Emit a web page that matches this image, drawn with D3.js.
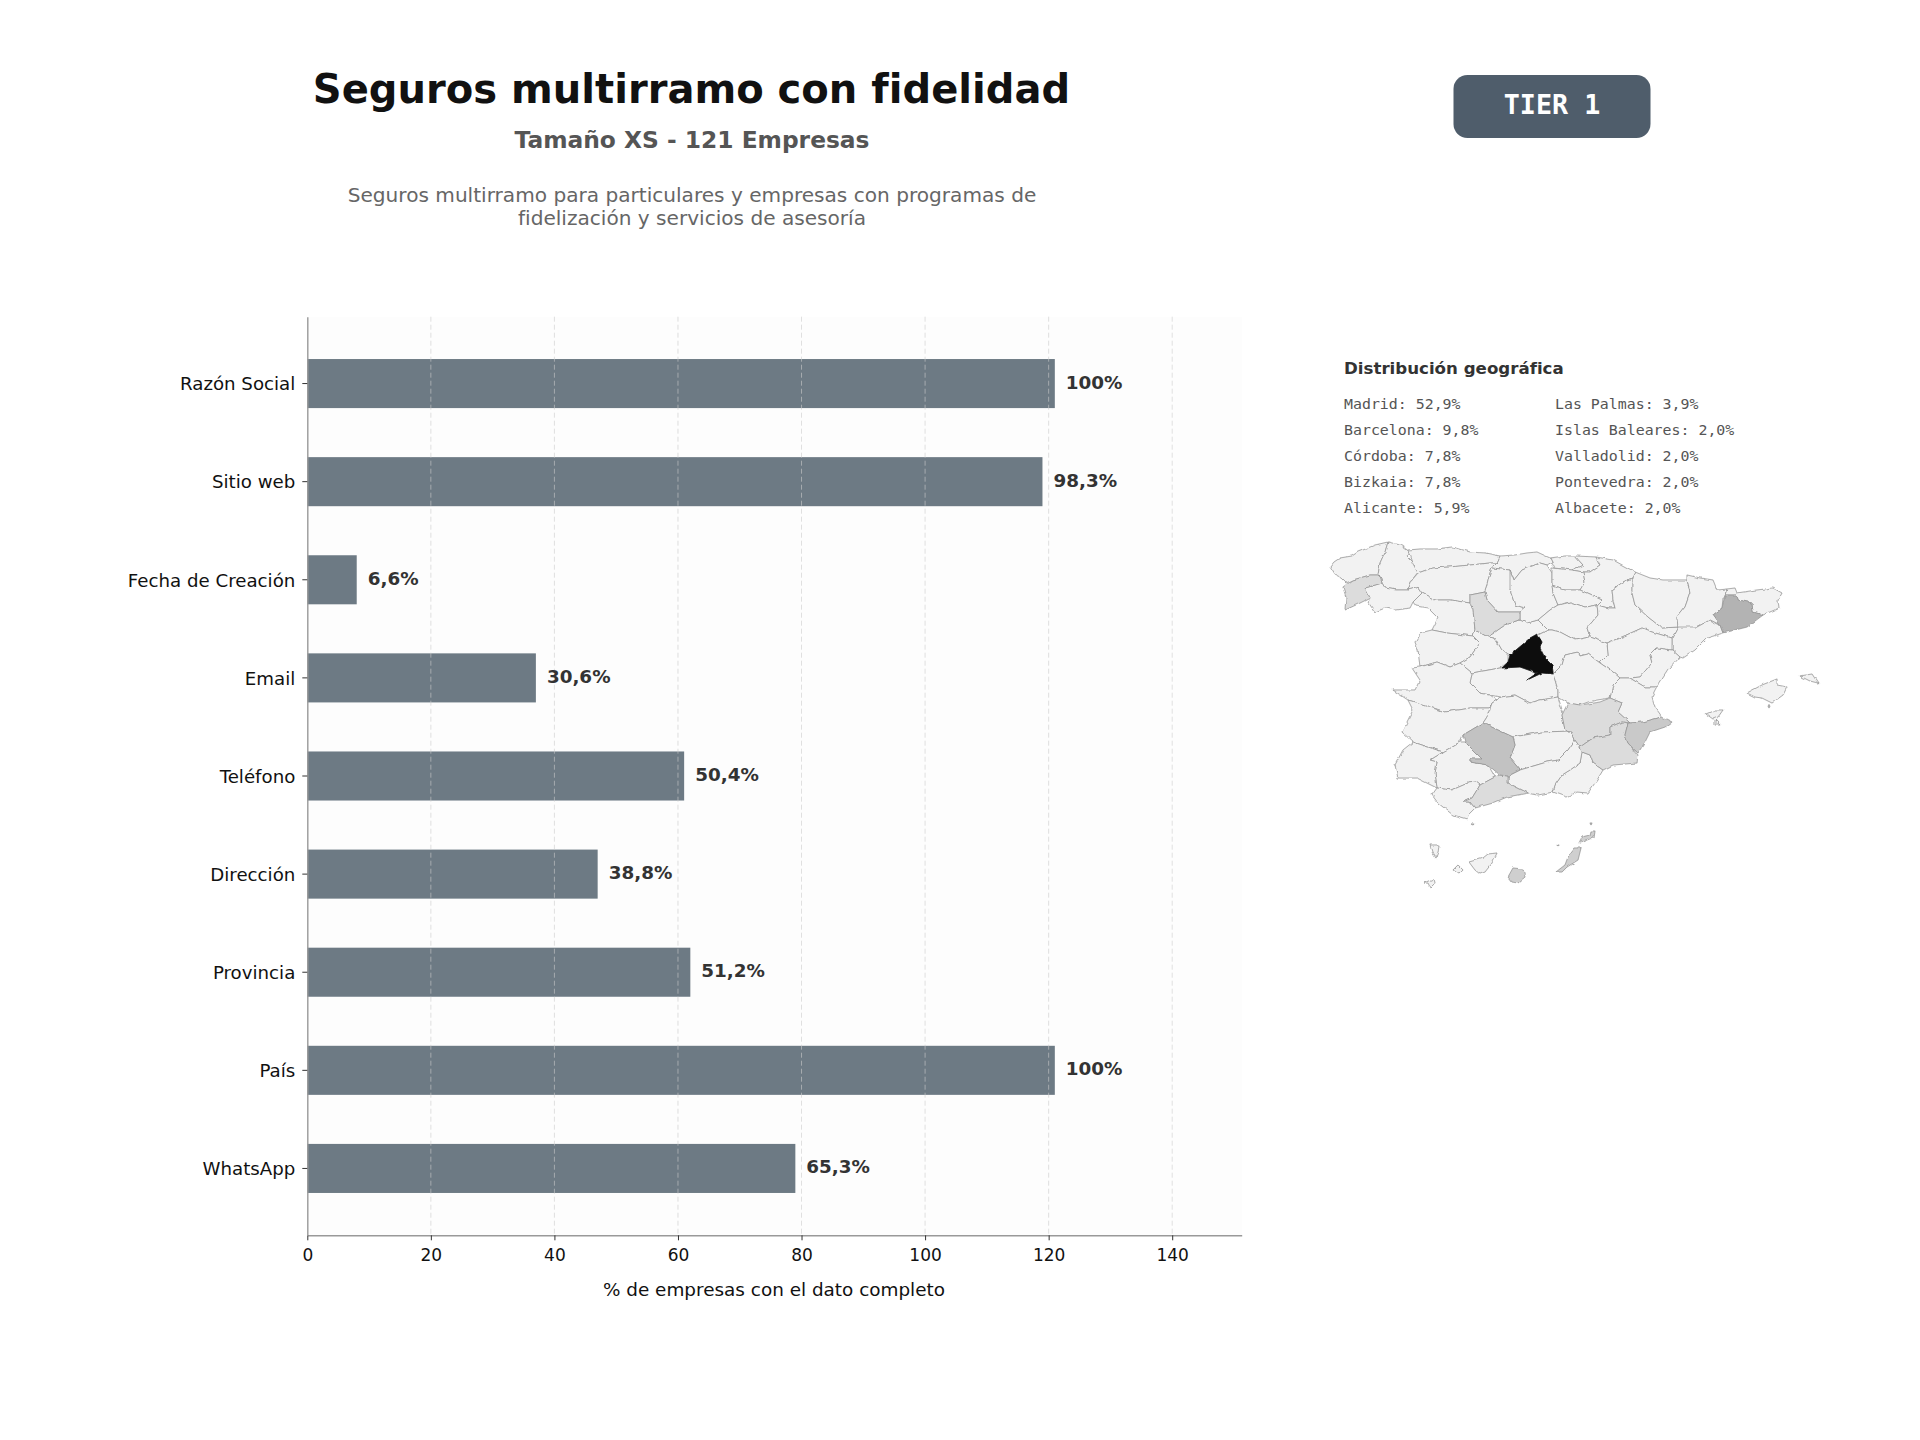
<!DOCTYPE html>
<html lang="es">
<head>
<meta charset="utf-8">
<title>Seguros multirramo con fidelidad</title>
<script src="https://cdn.jsdelivr.net/npm/d3@7/dist/d3.min.js"></script>
<style>
  html, body { margin: 0; padding: 0; background: #fff; }
  svg { display: block; }
  text { font-family: "DejaVu Sans", sans-serif; }
</style>
</head>
<body>
<svg id="chart" width="1920" height="1440"></svg>
<script>
// Completeness of company data fields
const totalCompanies = 121;
const fieldNames = ["Razón Social", "Sitio web", "Fecha de Creación", "Email", "Teléfono", "Dirección", "Provincia", "País", "WhatsApp"];
const fieldCounts = [121, 119, 8, 37, 61, 47, 62, 121, 79];
const xTickValues = [0, 20, 40, 60, 80, 100, 120, 140];

// Geographic distribution, two text columns
const geoColumnLeft = ["Madrid: 52,9%", "Barcelona: 9,8%", "Córdoba: 7,8%", "Bizkaia: 7,8%", "Alicante: 5,9%"];
const geoColumnRight = ["Las Palmas: 3,9%", "Islas Baleares: 2,0%", "Valladolid: 2,0%", "Pontevedra: 2,0%", "Albacete: 2,0%"];

// Share of companies by province, where it is shaded on the map
const provinceShare = {
  Madrid: 52.9, Barcelona: 9.8, Córdoba: 7.8, Alicante: 5.9, "Las Palmas": 3.9,
  Valladolid: 2, Pontevedra: 2, Albacete: 2, Málaga: 2, Murcia: 2
};
const shareStops = [0, 2, 3.9, 5.9, 7.8, 9.8, 52.9];
const shareGreys = ["#f2f2f2", "#dcdcdc", "#cfcfcf", "#c9c9c9", "#c2c2c2", "#b3b3b3", "#111111"];

// Simplified province outlines on the atlas grid, one "x,y" per vertex
const provinceOutlines = [
  ["A Coruña", "1330,567 1334,562 1340,558 1352,556 1358,552 1363,550 1375,545 1388,542 1385,552 1380,563 1378,575 1370,575 1353,580 1346,583 1341,578 1335,575"],
  ["Pontevedra", "1353,580 1370,575 1378,575 1380,577 1382,583 1365,588 1370,598 1358,604 1345,610 1346,597 1343,587"],
  ["Lugo", "1388,542 1400,545 1410,552 1407,556 1413,562 1418,572 1412,580 1408,590 1396,590 1385,588 1382,583 1380,577 1378,575 1380,563 1385,552"],
  ["Ourense", "1365,588 1382,583 1385,588 1396,590 1408,590 1418,587 1422,593 1413,602 1410,608 1395,610 1385,608 1375,612 1368,602 1370,598"],
  ["Asturias", "1408,550 1420,549 1437,549 1453,547 1470,552 1485,553 1500,556 1497,563 1490,563 1470,565 1450,567 1432,568 1418,573 1412,562"],
  ["Cantabria", "1500,556 1515,555 1527,553 1537,552 1550,558 1552,562 1547,565 1540,563 1527,568 1522,570 1514,580 1510,570 1492,568 1497,563"],
  ["León", "1418,573 1432,568 1450,567 1470,565 1490,563 1497,563 1492,568 1488,580 1485,592 1470,595 1470,603 1450,600 1435,600 1422,593 1418,587 1408,590 1412,580"],
  ["Palencia", "1492,568 1510,570 1514,580 1510,590 1515,605 1525,608 1520,612 1515,612 1498,612 1487,600 1485,592 1488,580"],
  ["Valladolid", "1470,595 1485,592 1487,600 1498,612 1515,612 1520,612 1520,620 1505,625 1495,632 1488,637 1475,630 1473,610 1470,603"],
  ["Zamora", "1413,602 1422,593 1435,600 1450,600 1470,603 1473,610 1475,630 1473,636 1447,633 1432,630 1438,618 1428,608 1416,606"],
  ["Salamanca", "1420,633 1432,630 1447,633 1473,636 1480,643 1470,657 1460,663 1450,667 1437,662 1420,667 1418,650 1415,642"],
  ["Ávila", "1475,630 1488,637 1495,638 1502,650 1508,655 1508,662 1500,668 1472,673 1460,663 1470,657 1480,643 1473,636"],
  ["Segovia", "1495,632 1505,625 1520,620 1527,623 1538,620 1548,630 1538,635 1530,638 1522,645 1510,655 1508,655 1502,650 1495,638 1488,637"],
  ["Burgos", "1510,570 1514,580 1522,570 1527,568 1540,563 1547,565 1552,573 1552,585 1553,593 1558,605 1550,610 1538,620 1527,623 1520,620 1520,612 1525,608 1515,605 1510,590"],
  ["Bizkaia", "1550,558 1565,556 1575,556 1583,565 1572,570 1555,568 1552,562"],
  ["Gipuzkoa", "1575,556 1596,557 1600,565 1590,572 1583,572 1572,570 1583,565"],
  ["Álava", "1552,568 1572,570 1583,572 1585,582 1580,590 1565,590 1552,585 1552,573"],
  ["Navarra", "1596,557 1613,560 1635,572 1632,578 1623,582 1612,590 1613,600 1615,608 1608,608 1597,605 1602,600 1580,590 1585,582 1583,572 1590,572 1600,565"],
  ["La Rioja", "1552,585 1565,590 1580,590 1602,600 1597,605 1585,607 1570,602 1558,605 1553,593"],
  ["Soria", "1550,610 1558,605 1570,602 1585,607 1597,605 1598,615 1587,628 1590,637 1575,640 1560,632 1552,630 1548,630 1538,620"],
  ["Zaragoza", "1597,605 1608,608 1615,608 1613,600 1612,590 1623,582 1632,578 1632,593 1635,605 1648,617 1662,628 1678,627 1672,638 1652,632 1642,628 1622,637 1607,643 1590,637 1587,628 1598,615"],
  ["Huesca", "1632,578 1635,572 1650,578 1663,580 1687,580 1690,593 1685,607 1677,617 1678,627 1662,628 1648,617 1635,605 1632,593"],
  ["Lleida", "1687,575 1700,578 1713,580 1717,590 1727,589 1725,595 1723,598 1722,608 1713,615 1720,625 1710,620 1697,627 1678,630 1677,617 1685,607 1690,593 1687,580"],
  ["Girona", "1727,589 1735,588 1737,593 1757,590 1773,588 1782,593 1778,600 1779,608 1763,615 1753,612 1752,603 1738,600 1737,595 1725,595"],
  ["Barcelona", "1725,595 1737,595 1738,600 1752,603 1753,612 1763,615 1747,627 1723,633 1720,625 1713,615 1722,608"],
  ["Tarragona", "1678,627 1697,627 1710,620 1720,625 1723,633 1707,638 1695,650 1683,658 1680,657 1672,650 1672,638"],
  ["Teruel", "1607,643 1622,637 1642,628 1652,632 1672,638 1672,650 1657,648 1650,655 1652,663 1640,677 1630,678 1620,678 1613,672 1600,663 1608,655"],
  ["Castellón", "1657,648 1672,650 1680,657 1668,670 1657,687 1645,687 1633,680 1630,678 1640,677 1652,663 1650,655"],
  ["Valencia", "1620,678 1630,678 1633,680 1645,687 1657,687 1652,697 1655,707 1662,717 1643,722 1630,723 1618,712 1622,703 1610,698 1613,685"],
  ["Guadalajara", "1538,635 1548,630 1552,630 1560,632 1575,640 1590,637 1607,643 1608,655 1600,663 1588,654 1580,656 1578,652 1565,655 1562,665 1553,674 1553,672 1552,665 1545,658 1540,648 1542,642"],
  ["Toledo", "1472,673 1500,668 1520,667 1537,673 1527,680 1542,673 1553,674 1555,680 1558,690 1558,697 1540,700 1530,703 1515,695 1500,697 1490,695 1480,693 1470,683"],
  ["Cáceres", "1412,668 1420,667 1437,662 1450,667 1460,663 1472,673 1470,683 1480,693 1490,695 1497,700 1488,708 1470,708 1445,712 1425,705 1408,700 1393,690 1415,690 1420,680"],
  ["Badajoz", "1408,700 1425,705 1445,712 1470,708 1488,708 1497,700 1492,703 1487,717 1483,723 1463,735 1460,742 1443,752 1413,742 1402,732 1413,710"],
  ["Ciudad Real", "1497,700 1500,697 1515,695 1530,703 1540,700 1558,697 1563,713 1562,715 1565,730 1572,731 1543,732 1513,737 1483,723 1487,717 1492,703"],
  ["Cuenca", "1553,674 1562,665 1565,655 1578,652 1580,656 1588,654 1600,663 1613,672 1620,678 1613,685 1610,698 1597,700 1588,702 1580,705 1568,703 1563,700 1558,697 1558,690 1555,680"],
  ["Albacete", "1568,703 1580,705 1600,702 1610,698 1622,703 1618,712 1630,723 1622,722 1610,727 1610,735 1593,738 1580,747 1575,740 1572,731 1565,730 1562,715"],
  ["Murcia", "1580,747 1593,738 1610,735 1610,727 1622,722 1628,723 1625,735 1628,743 1638,755 1637,763 1613,765 1603,770 1593,763 1590,755 1582,752"],
  ["Alicante", "1630,723 1643,722 1662,717 1672,722 1665,727 1650,732 1645,742 1638,753 1628,743 1625,735 1628,723"],
  ["Almería", "1582,752 1590,755 1593,763 1603,770 1597,780 1588,793 1577,792 1567,797 1553,792 1555,785 1562,775 1570,770 1580,763"],
  ["Jaén", "1513,737 1543,732 1572,731 1575,740 1568,750 1558,760 1547,762 1520,770 1510,758 1515,745"],
  ["Granada", "1520,770 1547,762 1558,760 1568,750 1575,740 1580,747 1582,752 1580,763 1570,770 1562,775 1555,785 1553,792 1538,795 1528,793 1508,783 1508,776"],
  ["Málaga", "1480,785 1495,777 1500,775 1508,776 1508,783 1528,793 1507,797 1493,803 1475,808 1470,802 1463,802 1472,798"],
  ["Córdoba", "1465,742 1463,735 1483,723 1513,737 1515,745 1510,758 1520,770 1508,776 1500,775 1488,765 1470,762 1470,759 1482,759 1473,750"],
  ["Sevilla", "1430,760 1443,752 1460,742 1465,742 1473,750 1482,759 1470,759 1470,762 1488,765 1495,777 1480,785 1476,782 1468,783 1452,790 1437,788 1435,773 1437,762"],
  ["Huelva", "1413,742 1443,752 1430,760 1437,762 1435,773 1437,788 1417,778 1398,778 1395,765 1403,750"],
  ["Cádiz", "1437,788 1452,790 1468,783 1476,782 1480,785 1472,798 1463,802 1470,802 1475,808 1468,815 1467,819 1453,815 1438,803 1432,795"],
  ["Madrid", "1537,634 1542,642 1540,648 1545,658 1552,665 1553,672 1553,674 1542,673 1527,680 1537,673 1520,667 1502,668 1508,662 1510,655 1522,645 1530,638"],
  ["Islas Baleares", "1747,693 1762,685 1777,679 1777,685 1787,687 1783,695 1772,703 1762,698 1755,697"],
  ["Islas Baleares", "1800,676 1812,674 1818,683 1810,681"],
  ["Islas Baleares", "1706,714 1715,710 1723,710 1718,717 1713,719"],
  ["Islas Baleares", "1715,720 1720,725 1715,725"],
  ["Islas Baleares", "1768,706 1770,706 1769,708"],
  ["Ceuta", "1471,824 1474,824 1473,825"],
  ["Santa Cruz de Tenerife", "1430,845 1439,845 1438,853 1436,858 1432,852"],
  ["Santa Cruz de Tenerife", "1469,862 1483,858 1488,854 1497,853 1492,863 1485,872 1480,874 1475,870"],
  ["Santa Cruz de Tenerife", "1453,870 1458,865 1463,870 1459,874"],
  ["Santa Cruz de Tenerife", "1424,883 1433,879 1434,883 1430,887 1428,883"],
  ["Las Palmas", "1513,868 1523,869 1525,877 1518,883 1512,882 1508,877"],
  ["Las Palmas", "1575,848 1581,848 1578,860 1567,867 1562,872 1556,872 1565,865 1568,857"],
  ["Las Palmas", "1579,843 1582,837 1590,835 1591,831 1594,831 1593,838 1583,842"],
  ["Las Palmas", "1590,823 1592,823 1591,825"],
  ["Las Palmas", "1557,845 1559,845 1558,847"]
];

const svg = d3.select("#chart");

// Rough edge for the coastlines and provincial borders
const roughen = svg.append("defs").append("filter").attr("id", "rough-border")
  .attr("x", "-2%").attr("y", "-2%").attr("width", "104%").attr("height", "104%");
roughen.append("feTurbulence").attr("type", "fractalNoise").attr("baseFrequency", 0.14)
  .attr("numOctaves", 2).attr("seed", 4).attr("result", "noise");
roughen.append("feDisplacementMap").attr("in", "SourceGraphic").attr("in2", "noise")
  .attr("scale", 3.5).attr("xChannelSelector", "R").attr("yChannelSelector", "G");

// Header
svg.append("text").attr("x", 691.5).attr("y", 103).attr("text-anchor", "middle")
  .attr("font-size", 40.05).attr("font-weight", 700).attr("fill", "#111").text("Seguros multirramo con fidelidad");
svg.append("text").attr("x", 692).attr("y", 148).attr("text-anchor", "middle")
  .attr("font-size", 23.35).attr("font-weight", 700).attr("fill", "#555").text("Tamaño XS - 121 Empresas");
const descriptionLines = ["Seguros multirramo para particulares y empresas con programas de", "fidelización y servicios de asesoría"];
svg.selectAll("text.desc").data(descriptionLines).join("text").attr("class", "desc")
  .attr("x", 692).attr("y", (d, i) => 202 + i * 23).attr("text-anchor", "middle")
  .attr("font-size", 20.1).attr("fill", "#666").text(d => d);

// Tier badge
svg.append("rect").attr("x", 1453.5).attr("y", 75).attr("width", 197).attr("height", 63).attr("rx", 14)
  .attr("fill", "#4f5d6b");
svg.append("text").attr("x", 1552).attr("y", 114).attr("text-anchor", "middle")
  .style("font-family", '"DejaVu Sans Mono", monospace').attr("font-size", 26.7).attr("font-weight", 700)
  .attr("fill", "#fff").text("TIER 1");

// Bar chart
const plot = { left: 307.3, right: 1241.7, top: 316.7, bottom: 1235.3 };
const x = d3.scaleLinear().domain([0, totalCompanies * 1.25]).range([plot.left, plot.right]);
const y = d3.scaleBand().domain(fieldNames).range([plot.top, plot.bottom]).paddingInner(0.5).paddingOuter(0.4315);

svg.append("rect").attr("x", plot.left).attr("y", plot.top)
  .attr("width", plot.right - plot.left).attr("height", plot.bottom - plot.top).attr("fill", "#fdfdfd");

svg.selectAll("rect.bar").data(fieldNames).join("rect").attr("class", "bar")
  .attr("x", x(0)).attr("y", d => y(d))
  .attr("width", (d, i) => x(fieldCounts[i]) - x(0)).attr("height", y.bandwidth())
  .attr("fill", "#6d7a84");

// Dashed grid runs over the bars
svg.selectAll("line.grid").data(xTickValues.slice(1)).join("line").attr("class", "grid")
  .attr("x1", d => x(d)).attr("x2", d => x(d)).attr("y1", plot.top).attr("y2", plot.bottom)
  .attr("stroke", "#cccccc").attr("stroke-opacity", 0.6).attr("stroke-width", 1).attr("stroke-dasharray", "5,3");

const percentLabel = count => {
  const pct = count / totalCompanies * 100;
  return pct === 100 ? "100%" : pct.toFixed(1).replace(".", ",") + "%";
};
svg.selectAll("text.value").data(fieldNames).join("text").attr("class", "value")
  .attr("x", (d, i) => x(fieldCounts[i]) + 11).attr("y", d => y(d) + y.bandwidth() / 2 + 5)
  .attr("font-size", 18.35).attr("font-weight", 700).attr("fill", "#333")
  .text((d, i) => percentLabel(fieldCounts[i]));

const xAxis = svg.append("g").attr("transform", `translate(0,${plot.bottom})`)
  .call(d3.axisBottom(x).tickValues(xTickValues).tickFormat(d3.format("d")).tickSize(5).tickSizeOuter(0).tickPadding(6));
const yAxis = svg.append("g").attr("transform", `translate(${plot.left},0)`)
  .call(d3.axisLeft(y).tickSize(5).tickSizeOuter(0).tickPadding(7));
[xAxis, yAxis].forEach(axis => {
  axis.select(".domain").attr("stroke", "#999").attr("stroke-width", 1.4);
  axis.selectAll(".tick line").attr("stroke", "#333").attr("stroke-width", 1);
  axis.selectAll(".tick text").attr("fill", "#111").style("font-family", '"DejaVu Sans", sans-serif');
});
xAxis.selectAll(".tick text").attr("font-size", 17).attr("dy", "0.85em");
yAxis.selectAll(".tick text").attr("font-size", 18.2).attr("dy", "0.37em");

svg.append("text").attr("x", 774).attr("y", 1296).attr("text-anchor", "middle")
  .attr("font-size", 18.4).attr("fill", "#111").text("% de empresas con el dato completo");

// Geographic list
svg.append("text").attr("x", 1344).attr("y", 373.5).attr("font-size", 16.65).attr("font-weight", 700)
  .attr("fill", "#333").text("Distribución geográfica");
[[geoColumnLeft, 1344], [geoColumnRight, 1555]].forEach(([lines, cx]) => {
  svg.append("g").selectAll("text").data(lines).join("text")
    .attr("x", cx).attr("y", (d, i) => 409 + i * 26)
    .style("font-family", '"DejaVu Sans Mono", monospace').attr("font-size", 14.9)
    .attr("fill", "#555").text(d => d);
});

// Province map
const grey = d3.scaleLinear().domain(shareStops).range(shareGreys);
const toRing = text => {
  const ring = text.split(" ").map(p => p.split(",").map(Number));
  ring.push(ring[0]);
  return d3.polygonArea(ring) > 0 ? ring.reverse() : ring;
};
const provinces = {
  type: "FeatureCollection",
  features: provinceOutlines.map(([name, outline]) => ({
    type: "Feature",
    properties: { name, share: provinceShare[name] || 0 },
    geometry: { type: "Polygon", coordinates: [toRing(outline)] }
  }))
};
const projection = d3.geoIdentity().fitExtent([[1330, 542], [1818, 887]], provinces);
const mapPath = d3.geoPath(projection);
const mapGroup = svg.append("g").attr("filter", "url(#rough-border)");
// Base pass closes the hairline slits between neighbouring outlines
mapGroup.append("g").selectAll("path").data(provinces.features).join("path")
  .attr("d", mapPath).attr("fill", "#f2f2f2").attr("stroke", "#f2f2f2").attr("stroke-width", 1.6);
mapGroup.append("g").selectAll("path")
  .data(provinces.features.slice().sort((a, b) => a.properties.share - b.properties.share))
  .join("path")
  .attr("d", mapPath)
  .attr("fill", d => grey(d.properties.share))
  .attr("stroke", d => d.properties.name === "Madrid" ? "#111" : "#8f8f8f")
  .attr("stroke-width", 0.7)
  .attr("stroke-linejoin", "round");
</script>
</body>
</html>
